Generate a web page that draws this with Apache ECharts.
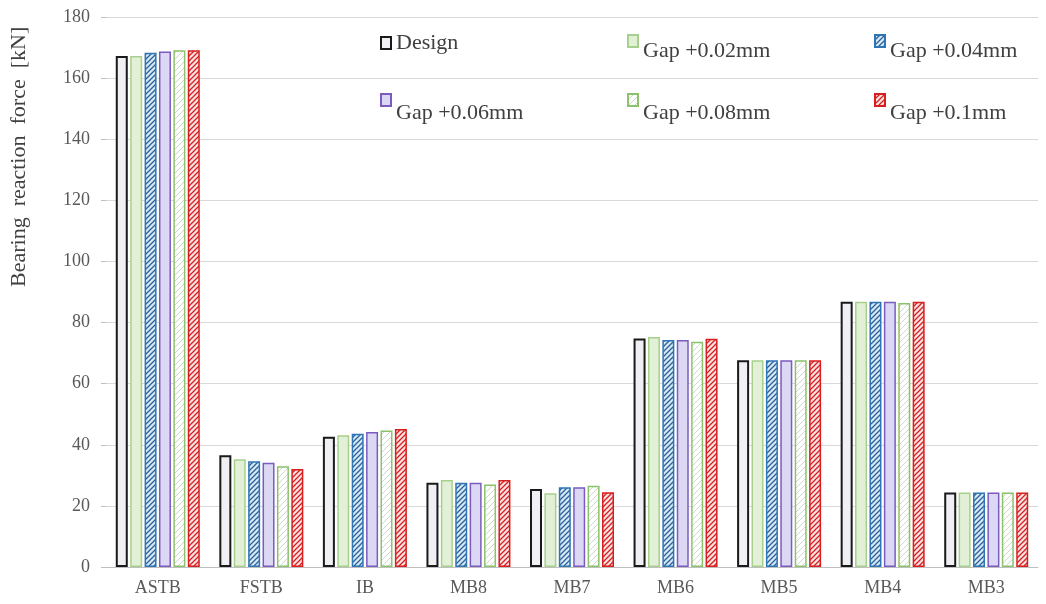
<!DOCTYPE html>
<html>
<head>
<meta charset="utf-8">
<title>Bearing reaction force</title>
<script src="https://cdn.jsdelivr.net/npm/echarts@6/dist/echarts.min.js"></script>
<style>
    html, body { margin: 0; padding: 0; background: #fff; }
    #chart { width: 1046px; height: 604px; }
</style>
</head>
<body>
<div id="chart"></div>
<script>
// 数据
const categories = ['ASTB', 'FSTB', 'IB', 'MB8', 'MB7', 'MB6', 'MB5', 'MB4', 'MB3'];
const seriesNames = ['Design', 'Gap +0.02mm', 'Gap +0.04mm', 'Gap +0.06mm', 'Gap +0.08mm', 'Gap +0.1mm'];
const design = [167.2, 36.6, 42.6, 27.6, 25.5, 74.8, 67.7, 86.8, 24.4];
const gap002 = [167.2, 35.3, 43.1, 28.5, 24.1, 75.3, 67.7, 86.8, 24.4];
const gap004 = [168.3, 34.6, 43.6, 27.6, 26.1, 74.3, 67.7, 86.8, 24.4];
const gap006 = [168.7, 34.1, 44.2, 27.6, 26.1, 74.3, 67.7, 86.8, 24.4];
const gap008 = [169.1, 33.0, 44.7, 27.0, 26.6, 73.7, 67.7, 86.4, 24.4];
const gap010 = [169.1, 32.1, 45.2, 28.5, 24.5, 74.7, 67.7, 86.8, 24.4];
const yTicks = [0, 20, 40, 60, 80, 100, 120, 140, 160, 180];

// 斜线填充
function hatch(lineColor, bgColor, size, lineWidth) {
    const c = document.createElement('canvas');
    c.width = size;
    c.height = size;
    const ctx = c.getContext('2d');
    ctx.fillStyle = bgColor;
    ctx.fillRect(0, 0, size, size);
    ctx.strokeStyle = lineColor;
    ctx.lineWidth = lineWidth;
    ctx.beginPath();
    ctx.moveTo(-1, size + 1);
    ctx.lineTo(size + 1, -1);
    ctx.moveTo(-1, 1);
    ctx.lineTo(1, -1);
    ctx.moveTo(size - 1, size + 1);
    ctx.lineTo(size + 1, size - 1);
    ctx.stroke();
    return { image: c, repeat: 'repeat' };
}

const styles = [
    { color: '#efeff4', borderColor: '#1a1a1a', borderWidth: 2 },
    { color: '#e3f0d8', borderColor: '#a8d08d', borderWidth: 1.5 },
    { color: hatch('#2f5f9a', '#d6eaf6', 5, 1.3), borderColor: '#2e75b6', borderWidth: 1.5 },
    { color: '#dcd8f4', borderColor: '#7a5cc0', borderWidth: 1.5 },
    { color: hatch('#d0d6cc', '#ffffff', 6, 1), borderColor: '#8cc26b', borderWidth: 1.5 },
    { color: hatch('#d42020', '#fbe3e3', 5, 1.3), borderColor: '#d81e1e', borderWidth: 1.5 },
];
const values = [design, gap002, gap004, gap006, gap008, gap010];

const chart = echarts.init(document.getElementById('chart'));
const serif = '"Liberation Serif", "DejaVu Serif", serif';

// 图例位置 (每个图例一项)
const legendLeft = [380, 627, 874, 380, 627, 874];
const legendTop = [32, 34, 34, 93, 93, 93];
const legendDrop = [0, 20, 20, 26, 26, 26];

const legends = seriesNames.map((name, i) => ({
    left: legendLeft[i],
    top: legendTop[i],
    padding: 0,
    icon: 'rect',
    itemWidth: 10,
    itemHeight: 12,
    formatter: '{t|{name}}',
    textStyle: {
        rich: {
            t: {
                fontFamily: serif,
                fontSize: 22,
                color: '#404040',
                padding: [legendDrop[i], 0, 0, 0],
            },
        },
    },
    data: [name],
}));

const option = {
    animation: false,
    textStyle: { fontFamily: serif },
    grid: { left: 106, right: 8, top: 17, bottom: 37 },
    legend: legends,
    graphic: [
        {
            type: 'text',
            x: 8,
            y: 287,
            rotation: Math.PI / 2,
            style: {
                text: 'Bearing  reaction  force  [kN]',
                font: '22px ' + serif,
                fill: '#404040',
            },
        },
    ],
    xAxis: {
        type: 'category',
        data: categories,
        axisLine: { lineStyle: { color: '#bfbfbf', width: 1 } },
        axisTick: { show: false },
        axisLabel: { fontSize: 18, color: '#595959', margin: 12, fontFamily: serif },
    },
    yAxis: {
        type: 'value',
        min: yTicks[0],
        max: yTicks[yTicks.length - 1],
        interval: 20,
        axisLine: { show: false },
        axisTick: { show: true, length: 5, lineStyle: { color: '#bfbfbf' } },
        axisLabel: { fontSize: 18, color: '#595959', margin: 16, fontFamily: serif },
        splitLine: { lineStyle: { color: '#d9d9d9', width: 1 } },
    },
    series: seriesNames.map((name, i) => ({
        name: name,
        type: 'bar',
        barWidth: 12,
        barGap: '20%',
        data: values[i],
        itemStyle: styles[i],
    })),
};

chart.setOption(option);
</script>
</body>
</html>
